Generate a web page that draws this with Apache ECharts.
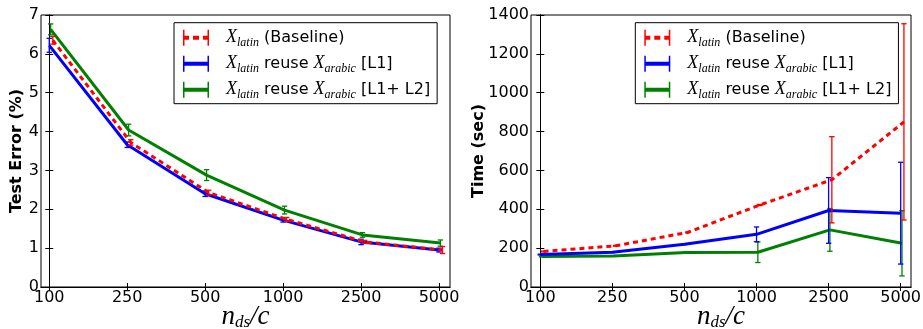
<!DOCTYPE html>
<html><head><meta charset="utf-8">
<script src="https://cdn.jsdelivr.net/npm/echarts@6/dist/echarts.min.js"></script>
<style>html,body{margin:0;padding:0;background:#fff}#c{width:923px;height:329px}</style>
</head><body><div id="c"></div>
<script>
// ---- data ----
const categories = ['100', '250', '500', '1000', '2500', '5000'];
const tickPositions = [0, 1, 2, 3, 4, 5];

const errBaseline   = [6.35, 3.72, 2.43, 1.74, 1.16, 0.95];
const errBaselineSd = [0.10, 0.07, 0.06, 0.05, 0.04, 0.09];
const errL1         = [6.22, 3.66, 2.40, 1.72, 1.16, 0.95];
const errL1Sd       = [0.18, 0.07, 0.07, 0.05, 0.07, 0.05];
const errL1L2       = [6.63, 4.04, 2.88, 1.98, 1.34, 1.13];
const errL1L2Sd     = [0.14, 0.15, 0.14, 0.10, 0.06, 0.08];

const timeBaseline   = [183, 212, 281, 422, 552, 850];
const timeBaselineSd = [2, 2, 2, 3, 222, 505];
const timeL1         = [167, 179, 220, 271, 394, 380];
const timeL1Sd       = [2, 2, 2, 38, 169, 262];
const timeL1L2       = [157, 160, 178, 179, 294, 225];
const timeL1L2Sd     = [2, 2, 2, 53, 110, 168];

const seriesNames = ['baseline', 'l1', 'l1l2'];
const seriesColors = ['#ff0000', '#0000ff', '#008000'];
const xOffsets = [0.045, 0, 0.018];

// ---- helpers ----
const chart = echarts.init(document.getElementById('c'));
const FONT = 'DejaVu Sans';

function lineSeries(idx, axis, vals) {
  return {
    type: 'line', name: seriesNames[idx],
    xAxisIndex: axis.x, yAxisIndex: axis.y,
    data: vals.map((v, i) => [i + xOffsets[idx], v]),
    symbol: 'none', silent: true,
    z: idx === 0 ? 5 : (idx === 1 ? 4 : 3),
    lineStyle: { color: seriesColors[idx], width: 3, type: idx === 0 ? [5, 4] : 'solid', cap: 'butt' },
    itemStyle: { color: seriesColors[idx] },
    animation: false
  };
}
function errSeries(idx, axis, vals, sds) {
  const color = seriesColors[idx];
  return {
    type: 'custom', name: seriesNames[idx] + '_err',
    xAxisIndex: axis.x, yAxisIndex: axis.y,
    data: vals.map((v, i) => [i + xOffsets[idx], v - sds[i], v + sds[i]]),
    encode: { x: 0, y: [1, 2] }, silent: true,
    z: idx === 0 ? 5 : (idx === 1 ? 4 : 3),
    renderItem: function (params, api) {
      const x = api.value(0);
      const p1 = api.coord([x, api.value(2)]);
      const p2 = api.coord([x, api.value(1)]);
      const w = 2.7;
      const st = { stroke: color, lineWidth: 1.3 };
      return { type: 'group', children: [
        { type: 'line', shape: { x1: p1[0], y1: p1[1], x2: p2[0], y2: p2[1] }, style: st },
        { type: 'line', shape: { x1: p1[0] - w, y1: p1[1], x2: p1[0] + w, y2: p1[1] }, style: st },
        { type: 'line', shape: { x1: p2[0] - w, y1: p2[1], x2: p2[0] + w, y2: p2[1] }, style: st }
      ]};
    },
    animation: false
  };
}

const iconH = 'path://M0,0h1.5v16h-1.5z M24.5,0h1.5v16h-1.5z M0,6h26v4h-26z';
const iconDash = 'path://M0,0h1.5v16h-1.5z M24.5,0h1.5v16h-1.5z M0,6h6v4h-6z M10,6h6v4h-6z M20,6h6v4h-6z';

const legendText = {
  baseline: '{x|X}{s|latin}{t| (Baseline)}',
  l1: '{x|X}{s|latin}{t| reuse }{x|X}{s|arabic}{t| [L1]}',
  l1l2: '{x|X}{s|latin}{t| reuse }{x|X}{s|arabic}{t| [L1+ L2]}'
};
const rich = {
  x: { fontFamily: 'Liberation Serif', fontStyle: 'italic', fontSize: 18, lineHeight: 18, color: '#000' },
  s: { fontFamily: 'Liberation Serif', fontStyle: 'italic', fontSize: 12, lineHeight: 12, padding: [10, 0, 0, 0], color: '#000' },
  t: { fontFamily: FONT, fontSize: 16, lineHeight: 18, color: '#000' }
};
function legend(left) {
  return {
    left: left, top: 22.7, orient: 'vertical',
    data: [{ name: 'baseline', icon: iconDash }, { name: 'l1', icon: iconH }, { name: 'l1l2', icon: iconH }],
    itemWidth: 26, itemHeight: 16, itemGap: 4,
    padding: [4, 7, 3, 9],
    borderColor: '#000', borderWidth: 1, borderRadius: 0, backgroundColor: '#fff',
    itemStyle: { borderWidth: 0 },
    selectedMode: false,
    formatter: n => legendText[n],
    textStyle: { padding: [0, 0, 0, 12], rich: rich, color: '#000' },
    z: 10
  };
}

const axisLabelStyle = { fontFamily: FONT, fontSize: 16, color: '#000' };
const xName = '{n|n}{s|ds}{n|/c}';
const xNameRich = {
  n: { fontFamily: 'Liberation Serif', fontStyle: 'italic', fontSize: 27, lineHeight: 26, color: '#000' },
  s: { fontFamily: 'Liberation Serif', fontStyle: 'italic', fontSize: 17, lineHeight: 16, padding: [12, 0, 0, 0], color: '#000' }
};

function xAxes(grid, min, max) {
  return [
    { type: 'value', gridIndex: grid, min: min, max: max, position: 'bottom',
      axisLine: { show: true, lineStyle: { color: '#000', width: 1 } },
      axisTick: { show: true, inside: true, length: 4, customValues: tickPositions, lineStyle: { color: '#000' } },
      axisLabel: { show: true, customValues: tickPositions, margin: 3, formatter: v => categories[Math.round(v)], ...axisLabelStyle },
      splitLine: { show: false },
      name: xName, nameLocation: 'middle', nameGap: 17, nameMoveOverlap: false,
      nameTextStyle: { rich: xNameRich }
    },
    { type: 'value', gridIndex: grid, min: min, max: max, position: 'top',
      axisLine: { show: true, lineStyle: { color: '#000', width: 1 } },
      axisTick: { show: true, inside: true, length: 4, customValues: tickPositions, lineStyle: { color: '#000' } },
      axisLabel: { show: false }, splitLine: { show: false }
    }
  ];
}
function yAxes(grid, max, interval, name, nameGap) {
  return [
    { type: 'value', gridIndex: grid, min: 0, max: max, interval: interval, position: 'left',
      axisLine: { show: true, lineStyle: { color: '#000', width: 1 } },
      axisTick: { show: true, inside: true, length: 4, lineStyle: { color: '#000' } },
      axisLabel: { show: true, margin: 2, formatter: v => String(v), ...axisLabelStyle },
      splitLine: { show: false },
      name: name, nameLocation: 'middle', nameRotate: 90, nameGap: nameGap, nameMoveOverlap: false,
      nameTextStyle: { fontFamily: FONT, fontSize: 16, fontWeight: 'bold', color: '#000' }
    },
    { type: 'value', gridIndex: grid, min: 0, max: max, interval: interval, position: 'right',
      axisLine: { show: true, lineStyle: { color: '#000', width: 1 } },
      axisTick: { show: true, inside: true, length: 4, lineStyle: { color: '#000' } },
      axisLabel: { show: false }, splitLine: { show: false }
    }
  ];
}

const A = { x: 0, y: 0 };
const B = { x: 2, y: 2 };

chart.setOption({
  animation: false,
  backgroundColor: '#fff',
  grid: [
    { left: 41, top: 15, width: 409, height: 272, show: true, borderColor: '#000', borderWidth: 1, containLabel: false, outerBoundsMode: 'none' },
    { left: 531, top: 15, width: 380, height: 272, show: true, borderColor: '#000', borderWidth: 1, containLabel: false, outerBoundsMode: 'none' }
  ],
  xAxis: [...xAxes(0, -0.106, 5.141), ...xAxes(1, -0.129, 5.143)],
  yAxis: [...yAxes(0, 7, 1, 'Test Error (%)', 16), ...yAxes(1, 1400, 200, 'Time (sec)', 44)],
  legend: [legend(174), legend(635.3)],
  series: [
    lineSeries(2, A, errL1L2), errSeries(2, A, errL1L2, errL1L2Sd),
    lineSeries(1, A, errL1), errSeries(1, A, errL1, errL1Sd),
    lineSeries(0, A, errBaseline), errSeries(0, A, errBaseline, errBaselineSd),
    lineSeries(2, B, timeL1L2), errSeries(2, B, timeL1L2, timeL1L2Sd),
    lineSeries(1, B, timeL1), errSeries(1, B, timeL1, timeL1Sd),
    lineSeries(0, B, timeBaseline), errSeries(0, B, timeBaseline, timeBaselineSd)
  ]
});
</script>
</body></html>
